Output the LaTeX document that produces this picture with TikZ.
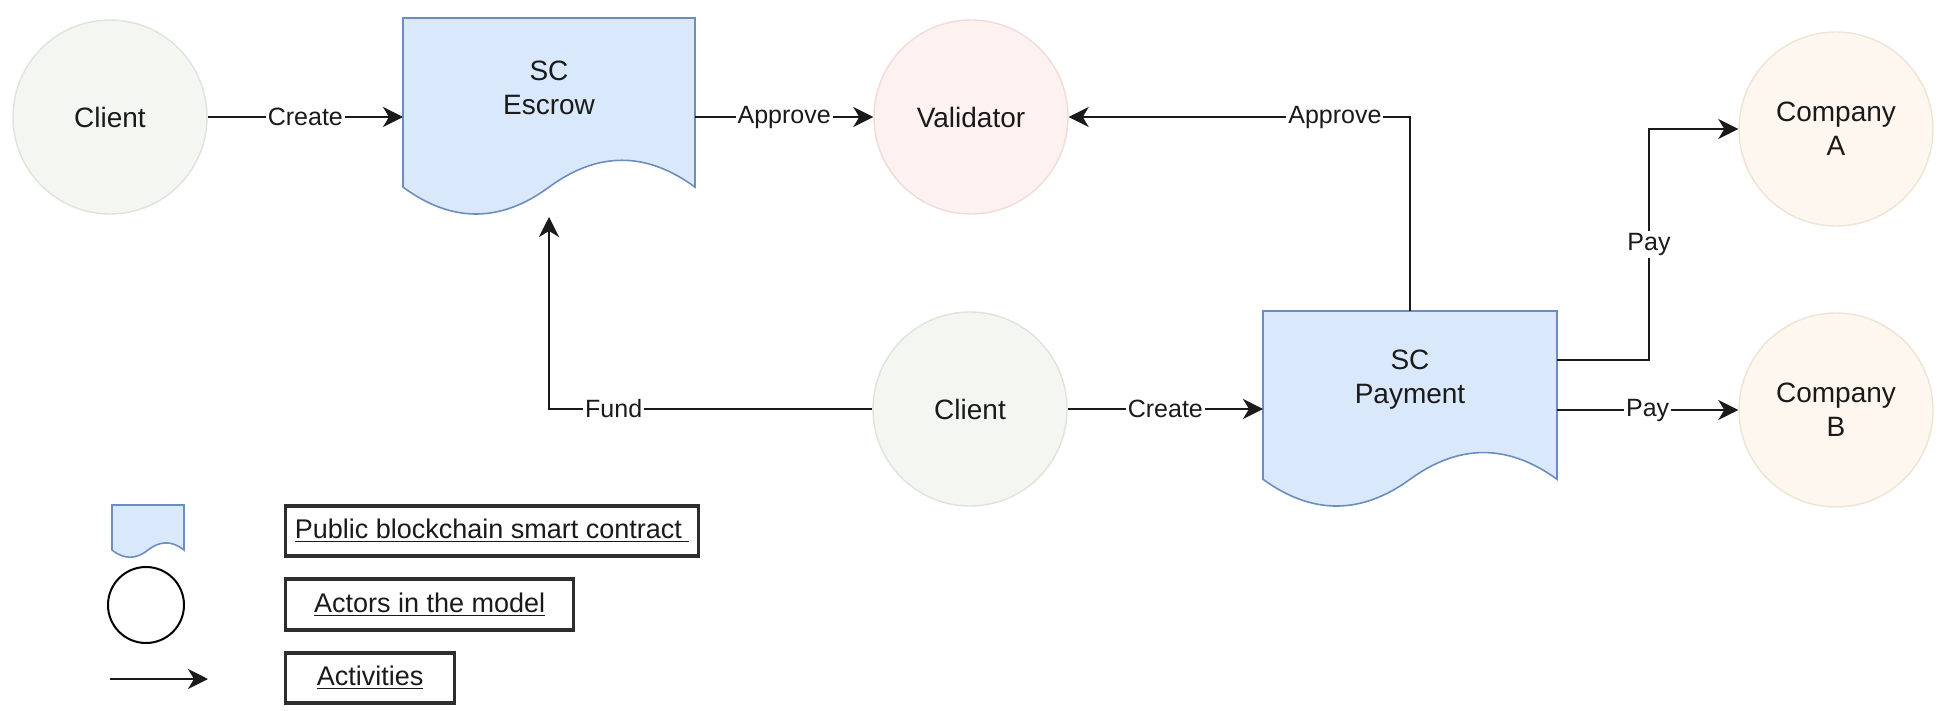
\documentclass[tikz,border=0pt]{standalone}
\usepackage{fontspec}
\setmainfont{Liberation Sans}
\usetikzlibrary{arrows.meta,calc}

\definecolor{docfill}{HTML}{DAE8FC}
\definecolor{docline}{HTML}{6C8EBF}
\definecolor{clientfill}{HTML}{F4F6F1}
\definecolor{clientline}{HTML}{E0E3DC}
\definecolor{valfill}{HTML}{FDF2F0}
\definecolor{valline}{HTML}{F0DBD7}
\definecolor{compfill}{HTML}{FDF7EF}
\definecolor{compline}{HTML}{EFE4D4}
\definecolor{ink}{HTML}{1A1A1A}
\definecolor{boxline}{HTML}{2E2E2E}

\newcommand\dgnode{\fontsize{14}{17}\selectfont}
\newcommand\dglabel{\fontsize{12.5}{15}\selectfont}
\newcommand\dgkey{\fontsize{13.5}{16}\selectfont}

% wavy-bottom "document" outline over an invisible box node; #2,#3 = width, height
\newcommand\docoutline[3]{%
  \draw[docshape] (#1.north west) -- ++(#2,0) -- ++(0,0.85*#3)
    .. controls +(-0.1667*#2,-0.18*#3) and +(0.1667*#2,-0.18*#3) .. ++(-0.5*#2,0)
    .. controls +(-0.1667*#2,0.18*#3) and +(0.1667*#2,0.18*#3) .. ++(-0.5*#2,0)
    -- cycle;}

\tikzset{
  actor/.style={circle, minimum size=97pt, inner sep=0pt, line width=0.7pt,
                font=\dgnode, align=center, text=ink},
  client/.style={actor, fill=clientfill, draw=clientline},
  validator/.style={actor, fill=valfill, draw=valline},
  company/.style={actor, fill=compfill, draw=compline},
  docbox/.style={rectangle, inner sep=0pt, outer sep=0pt},
  docshape/.style={fill=docfill, draw=docline, line width=0.8pt},
  doctext/.style={font=\dgnode, align=center, text=ink},
  flow/.style={draw=ink, line width=1.2pt,
               -{Stealth[length=10pt,width=10pt,inset=3pt]}},
  lbl/.style={fill=white, inner sep=1pt, font=\dglabel, text=ink},
  keybox/.style={rectangle, draw=boxline, line width=1.6pt, inner sep=0pt,
                 font=\dgkey, text=ink},
}

\begin{document}
\begin{tikzpicture}[x=0.5pt,y=-0.5pt]
\useasboundingbox[fill=white] (0,0) rectangle (1944,711);

% ---- actors ----
\node[client] (c1) at (110,117) {Client};
\node[validator] (val) at (971,117) {Validator};
\node[client] (c2) at (970,409) {Client};
\node[company] (ca) at (1836,129) {Company\\A};
\node[company] (cb) at (1836,410) {Company\\B};

% ---- smart contracts ----
\node[docbox, minimum width=146pt, minimum height=99.5pt] (esc) at (549,117.5) {};
\docoutline{esc}{292}{199}
\node[doctext] at ($(esc.north)+(0,70)$) {SC\\Escrow};

\node[docbox, minimum width=147pt, minimum height=99pt] (pay) at (1410,410) {};
\docoutline{pay}{294}{198}
\node[doctext] at ($(pay.north)+(0,69)$) {SC\\Payment};

% ---- activities ----
\draw[flow] (c1.east) -- node[lbl]{Create} (c1.east -| esc.west);
\draw[flow] (esc.east |- val) -- node[lbl]{Approve} (val.west);
\draw[flow] (pay.north) |- node[lbl, pos=0.61]{Approve} (val.east);
\coordinate (payout) at ($(pay.north east)+(0,49)$);
\draw[flow] (payout) -- ++(92,0) |- node[lbl, pos=0.25]{Pay} (ca.west);
\draw[flow] (pay.east |- cb) -- node[lbl]{Pay} (cb.west);
\draw[flow] (c2.east) -- node[lbl]{Create} (c2.east -| pay.west);
\draw[flow] (c2.west) -| node[lbl, pos=0.4]{Fund} (esc.south);

% ---- key ----
\node[docbox, minimum width=36pt, minimum height=26.5pt] (kdoc) at (148,531.5) {};
\docoutline{kdoc}{72}{53}
\node[circle, draw=black, line width=1pt, minimum size=38pt, inner sep=0pt] (kact) at (146,605) {};
\coordinate (karrA) at (110,679);
\coordinate (karrB) at (208,679);
\draw[flow] (karrA) -- (karrB);

\node[keybox, anchor=west, minimum width=206.5pt, minimum height=25pt] (k1) at (284,531)
  {\underline{Public blockchain smart contract\ }};
\node[keybox, anchor=west, minimum width=144pt, minimum height=25.5pt] (k2) at (284,604.5)
  {\underline{Actors in the model}};
\node[keybox, anchor=west, minimum width=84.5pt, minimum height=25pt] (k3) at (284,678)
  {\underline{Activities}};
\end{tikzpicture}
\end{document}
